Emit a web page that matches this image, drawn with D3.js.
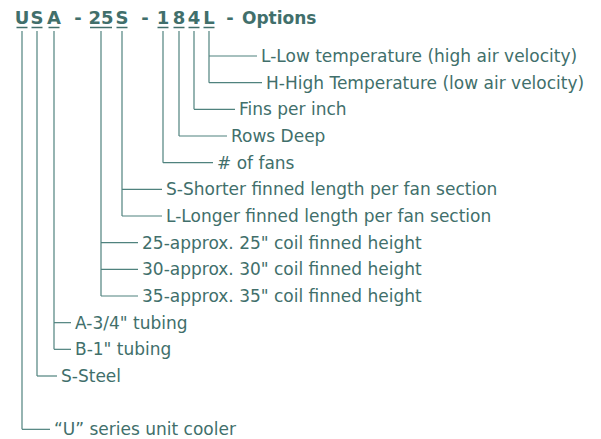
<html>
    <head>
        <style>
            body { margin: 0; background: #fff; }
            text { font-family: "DejaVu Sans", sans-serif; fill: #416f6b; }
        </style>
        <script src="https://d3js.org/d3.v7.min.js"></script>
    </head>
    <body>
        <svg id="plot" width="601" height="439"></svg>
        <script>
            // header tokens of the model number (underlined codes)
            const codes = ["U", "S", "A", "25", "S", "1", "8", "4", "L"];
            const codeX = [22, 37, 54, 101, 122, 163, 179, 194, 209];
            const dashes = [{x: 78, t: "-"}, {x: 145, t: "-"}, {x: 230, t: "-"}];

            // descriptions, which code they hang from, and their row index
            const labels = [
                "L-Low temperature (high air velocity)",
                "H-High Temperature (low air velocity)",
                "Fins per inch",
                "Rows Deep",
                "# of fans",
                "S-Shorter finned length per fan section",
                "L-Longer finned length per fan section",
                "25-approx. 25\" coil finned height",
                "30-approx. 30\" coil finned height",
                "35-approx. 35\" coil finned height",
                "A-3/4\" tubing",
                "B-1\" tubing",
                "S-Steel",
                "\u201CU\u201D series unit cooler"
            ];
            const labelCode = [8, 8, 7, 6, 5, 4, 4, 3, 3, 3, 2, 2, 1, 0];
            const labelRow = [0, 1, 2, 3, 4, 5, 6, 7, 8, 9, 10, 11, 12, 14];
            const leadLen = [48, 53, 41, 48, 50, 40, 40, 37, 37, 37, 17, 17, 20, 28];

            const svg = d3.select('#plot');
            const lineColor = "#4f827e";

            const y = d3.scaleLinear().domain([0, 12]).range([56, 376]);

            // header
            const head = svg.append('g');
            head.selectAll('text.code')
                .data(codes)
                .enter()
                .append('text')
                .attr('class', 'code')
                .attr('x', (d, i) => codeX[i])
                .attr('y', 24)
                .attr('text-anchor', 'middle')
                .style('font-size', '18px')
                .style('font-weight', 'bold')
                .text(d => d);

            head.selectAll('line.ul')
                .data(codes)
                .enter()
                .append('line')
                .attr('class', 'ul')
                .attr('x1', (d, i) => codeX[i] - (d.length > 1 ? 11 : 5.5))
                .attr('x2', (d, i) => codeX[i] + (d.length > 1 ? 11 : 5.5))
                .attr('y1', 27.5)
                .attr('y2', 27.5)
                .style('stroke', '#416f6b')
                .style('stroke-width', 1.5);

            head.selectAll('text.dash')
                .data(dashes)
                .enter()
                .append('text')
                .attr('class', 'dash')
                .attr('x', d => d.x)
                .attr('y', 24)
                .attr('text-anchor', 'middle')
                .style('font-size', '18px')
                .style('font-weight', 'bold')
                .text(d => d.t);

            head.append('text')
                .attr('x', 242)
                .attr('y', 24)
                .style('font-size', '17px')
                .style('font-weight', 'bold')
                .text("Options");

            // vertical stems: each code runs down to its last label
            const stemEnd = codes.map((c, i) => d3.max(labelRow.filter((r, j) => labelCode[j] === i)));
            svg.selectAll('line.stem')
                .data(codes)
                .enter()
                .append('line')
                .attr('class', 'stem')
                .attr('x1', (d, i) => codeX[i])
                .attr('x2', (d, i) => codeX[i])
                .attr('y1', 31)
                .attr('y2', (d, i) => y(stemEnd[i]))
                .style('stroke', lineColor)
                .style('stroke-width', 1.2);

            // branches
            svg.selectAll('line.branch')
                .data(labels)
                .enter()
                .append('line')
                .attr('class', 'branch')
                .attr('x1', (d, i) => codeX[labelCode[i]])
                .attr('x2', (d, i) => codeX[labelCode[i]] + leadLen[i])
                .attr('y1', (d, i) => y(labelRow[i]))
                .attr('y2', (d, i) => y(labelRow[i]))
                .style('stroke', lineColor)
                .style('stroke-width', 1.2);

            svg.selectAll('text.label')
                .data(labels)
                .enter()
                .append('text')
                .attr('class', 'label')
                .attr('x', (d, i) => codeX[labelCode[i]] + leadLen[i] + 4)
                .attr('y', (d, i) => y(labelRow[i]))
                .attr('dy', '0.36em')
                .style('font-size', '17px')
                .text(d => d);
        </script>
    </body>
</html>
